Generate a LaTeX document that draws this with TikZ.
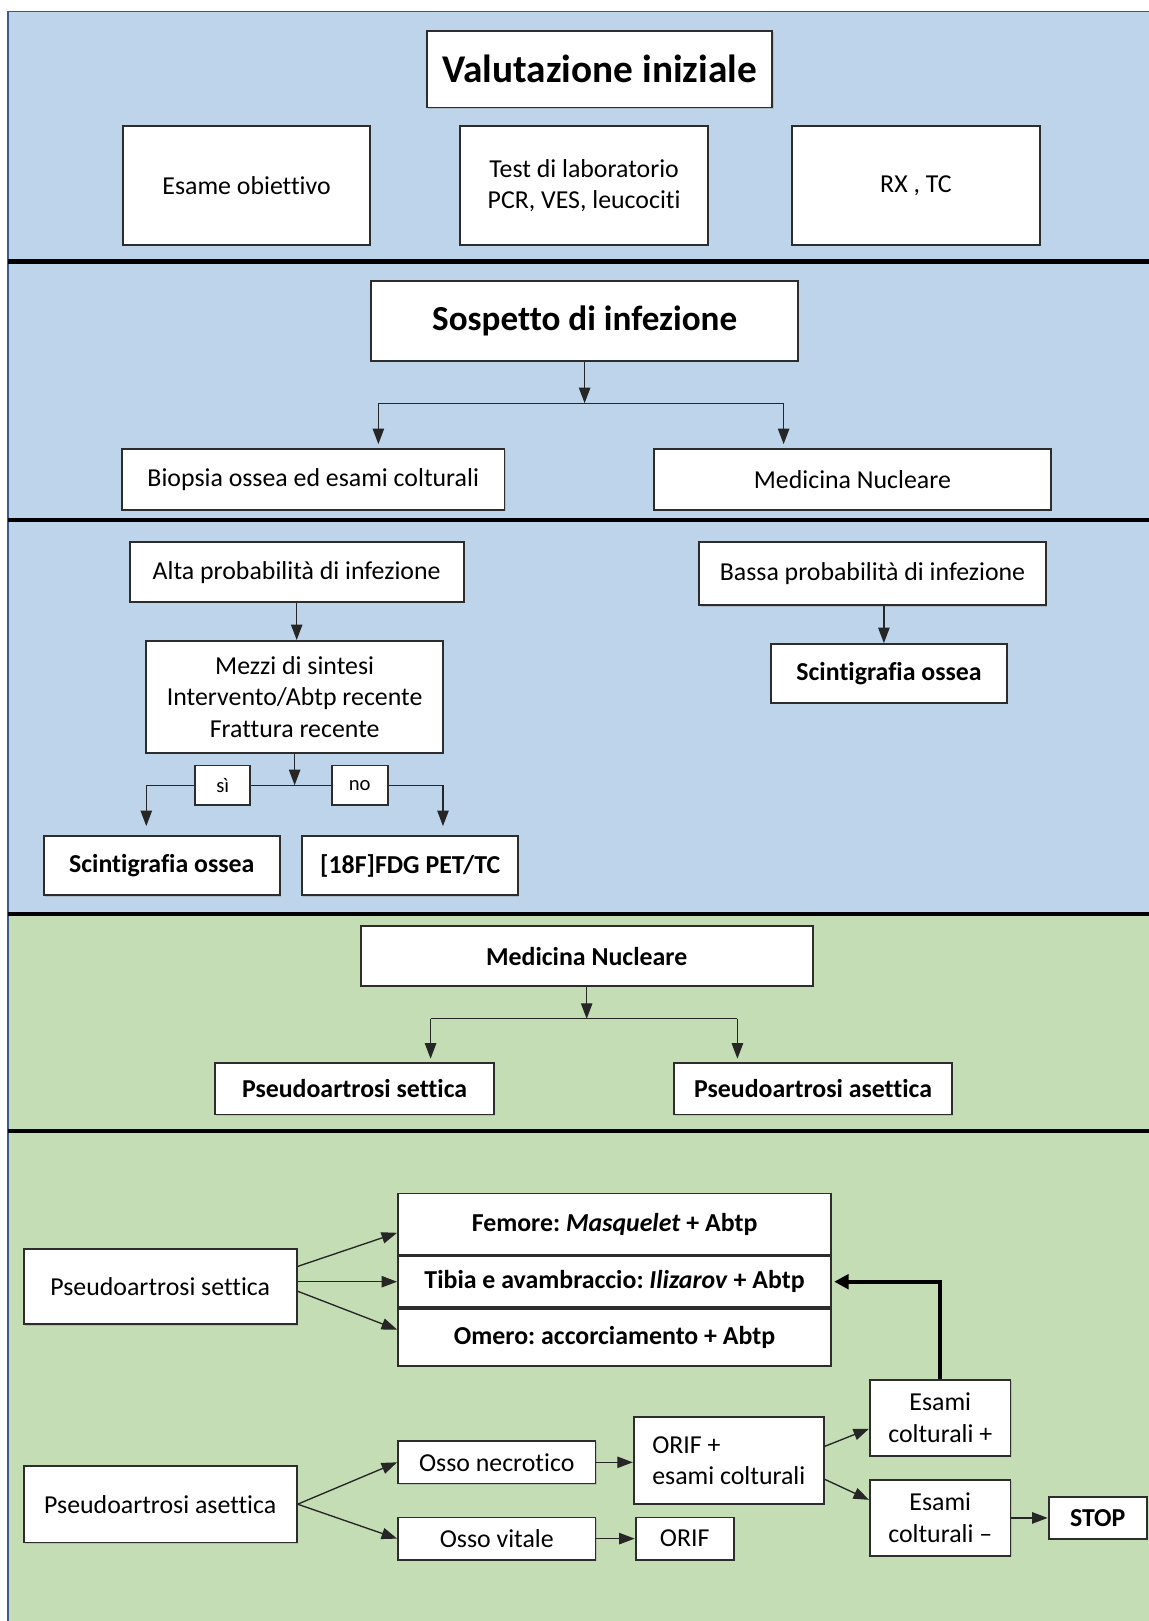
\documentclass[tikz,border=0pt]{standalone}
\usepackage{fontspec}
\setmainfont{Carlito}[Ligatures={TeX,NoCommon}]
\usetikzlibrary{arrows.meta,shadows,positioning}

\definecolor{panelblue}{RGB}{189,212,234}
\definecolor{panelgreen}{RGB}{196,221,180}
\definecolor{frameblue}{RGB}{56,93,138}
\definecolor{boxline}{RGB}{45,45,45}

\tikzset{
    box/.style={draw=boxline, fill=white, line width=1.8pt, inner sep=2pt, align=center,
        font=\fontsize{25}{30.5}\selectfont\frenchspacing,
        drop shadow={shadow xshift=1.2pt, shadow yshift=-1.2pt, opacity=0.3}},
    bbox/.style={box, font=\fontsize{25}{30.5}\selectfont\bfseries\frenchspacing},
    tbox/.style={box, font=\fontsize{34}{40}\selectfont\bfseries},
    lbl/.style={box, font=\fontsize{20}{24}\selectfont},
    boxsize/.style 2 args={minimum width=#1pt, minimum height=#2pt},
    arr/.style={-{Triangle[length=15pt,width=11pt]}, line width=1.3pt, draw=black!85},
    ln/.style={line width=1.3pt, draw=black!85},
    thickarr/.style={-{Triangle[length=14pt,width=14pt]}, line width=4pt, shorten >=2pt},
    divider/.style={line width=4pt},
    outerframe/.style={draw=frameblue, line width=1.5pt}
}

\begin{document}
\begin{tikzpicture}[x=1pt, y=-1pt]

    \useasboundingbox (0,0) rectangle (1111,1568);

    % Panels
    \fill[panelblue] (8,11) rectangle (1111,884);
    \fill[panelgreen] (8,884) rectangle (1111,1568);
    \draw[outerframe] (8,1568) -- (8,11) -- (1111,11);
    \foreach \y in {253,503,884,1094}
        \draw[divider] (8,\y) -- (1111,\y);

    % Nodes
    \node (val) [tbox, boxsize={334}{74}, font=\fontsize{38}{44}\selectfont\bfseries] at (580,67) {Valutazione iniziale};
    \node (esame) [box, boxsize={239}{115}] at (238.5,179.5) {Esame obiettivo};
    \node (test) [box, boxsize={240}{115}] at (565,179.5) {Test di laboratorio\\PCR, VES, leucociti};
    \node (rx) [box, boxsize={240}{115}] at (886,179.5) {RX , TC};

    \node (sosp) [tbox, boxsize={413}{77}] at (565.5,310.5) {Sospetto di infezione};
    \node (biop) [box, boxsize={370}{59}] at (303,464) {Biopsia ossea ed esami colturali};
    \node (medn1) [box, boxsize={384}{59}] at (824.5,464) {Medicina Nucleare};

    \node (alta) [box, boxsize={323}{58}] at (287,553.5) {Alta probabilità di infezione};
    \node (mezzi) [box, boxsize={287}{108}] at (285,674) {Mezzi di sintesi\\Intervento/Abtp recente\\Frattura recente};
    \node (si) [lbl, boxsize={53}{38}] at (215.5,759.5) {sì};
    \node (no) [lbl, boxsize={54}{38}] at (348,759.5) {no};
    \node (scint1) [bbox, boxsize={228}{57}] at (156.5,837.5) {Scintigrafia ossea};
    \node (fdg) [bbox, boxsize={209}{57}, right=20pt of scint1] {[18F]FDG PET/TC};
    \node (bassa) [box, boxsize={335}{61}] at (844,555) {Bassa probabilità di infezione};
    \node (scint2) [bbox, boxsize={228}{57}] at (860,651.5) {Scintigrafia ossea};

    \node (medn2) [bbox, boxsize={437}{58}] at (567.5,925) {Medicina Nucleare};
    \node (sett1) [bbox, boxsize={270}{50}] at (343,1053) {Pseudoartrosi settica};
    \node (asett1) [bbox, boxsize={269}{50}] at (786.5,1053) {Pseudoartrosi asettica};

    \node (sett2) [box, boxsize={264}{73}] at (155,1244.5) {Pseudoartrosi settica};
    \node (femore) [bbox, boxsize={419}{59}] at (594.5,1184) {Femore: \textit{Masquelet} + Abtp};
    \node (tibia) [bbox, boxsize={419}{49}, below=0pt of femore] {Tibia e avambraccio: \textit{Ilizarov} + Abtp};
    \node (omero) [bbox, boxsize={419}{55}, below=0pt of tibia] {Omero: accorciamento + Abtp};

    \node (asett2) [box, boxsize={264}{74}] at (155,1455) {Pseudoartrosi asettica};
    \node (necro) [box, boxsize={191}{41}] at (480.5,1414.5) {Osso necrotico};
    \node (vitale) [box, boxsize={191}{41}, below=31pt of necro] {Osso vitale};
    \node (orifp) [box, boxsize={184}{84}, align=left] at (705,1413) {ORIF +\\esami colturali};
    \node (orif) [box, boxsize={95}{41}, right=37pt of vitale] {ORIF};
    \node (esamip) [box, boxsize={136}{74}] at (909.5,1371.5) {Esami\\colturali +};
    \node (esamim) [box, boxsize={136}{74}, below=21pt of esamip] {Esami\\colturali –};
    \node (stop) [bbox, boxsize={95}{40}, right=35pt of esamim] {STOP};

    % Junctions
    \coordinate (j1) at (565.5,390);
    \coordinate (j1l) at (366,390);
    \coordinate (j1r) at (758,390);
    \coordinate (j2) at (mezzi.south |- si.center);
    \coordinate (j2l) at (141.5,759.5);
    \coordinate (j2r) at (428.5,759.5);
    \coordinate (b1) at ([xshift=11pt]bassa.south);
    \coordinate (j3) at (567.5,985.5);
    \coordinate (j3l) at (416.5,985.5);
    \coordinate (j3r) at (713.3,985.5);

    % Arrows
    \draw[arr] (sosp.south) -- (j1);
    \draw[ln] (j1l) -- (j1r);
    \draw[arr, shorten >=4pt] (j1l) -- (j1l |- biop.north);
    \draw[arr, shorten >=4pt] (j1r) -- (j1r |- medn1.north);

    \draw[arr] (alta.south) -- (alta.south |- mezzi.north);
    \draw[arr] (mezzi.south) -- (j2);
    \draw[ln] (j2l) -- (si) -- (no) -- (j2r);
    \draw[arr, shorten >=9pt] (j2l) -- (j2l |- scint1.north);
    \draw[arr, shorten >=9pt] (j2r) -- (j2r |- fdg.north);
    \draw[arr] (b1) -- (b1 |- scint2.north);

    \draw[arr] (medn2.south) -- (j3);
    \draw[ln] (j3l) -- (j3r);
    \draw[arr, shorten >=3pt] (j3l) -- (j3l |- sett1.north);
    \draw[arr, shorten >=3pt] (j3r) -- (j3r |- asett1.north);

    \draw[arr] ([yshift=19.5pt]sett2.east) -- ([yshift=-8.5pt]femore.west);
    \draw[arr] (sett2.east |- tibia.west) -- (tibia.west);
    \draw[arr] ([yshift=-4.5pt]sett2.east) -- ([yshift=7.5pt]omero.west);
    \draw[arr] (asett2.east) -- (necro.west);
    \draw[arr] (asett2.east) -- (vitale.west);
    \draw[arr] (necro.east) -- (necro.east -| orifp.west);
    \draw[arr] (vitale.east) -- (orif.west);
    \draw[arr] ([yshift=14pt]orifp.east) -- ([yshift=-10.5pt]esamip.west);
    \draw[arr] ([yshift=-18pt]orifp.east) -- ([yshift=17.5pt]esamim.west);
    \draw[arr] (esamim.east) -- (stop.west);
    \draw[thickarr] (esamip.north) |- (tibia.east);
\end{tikzpicture}
\end{document}
